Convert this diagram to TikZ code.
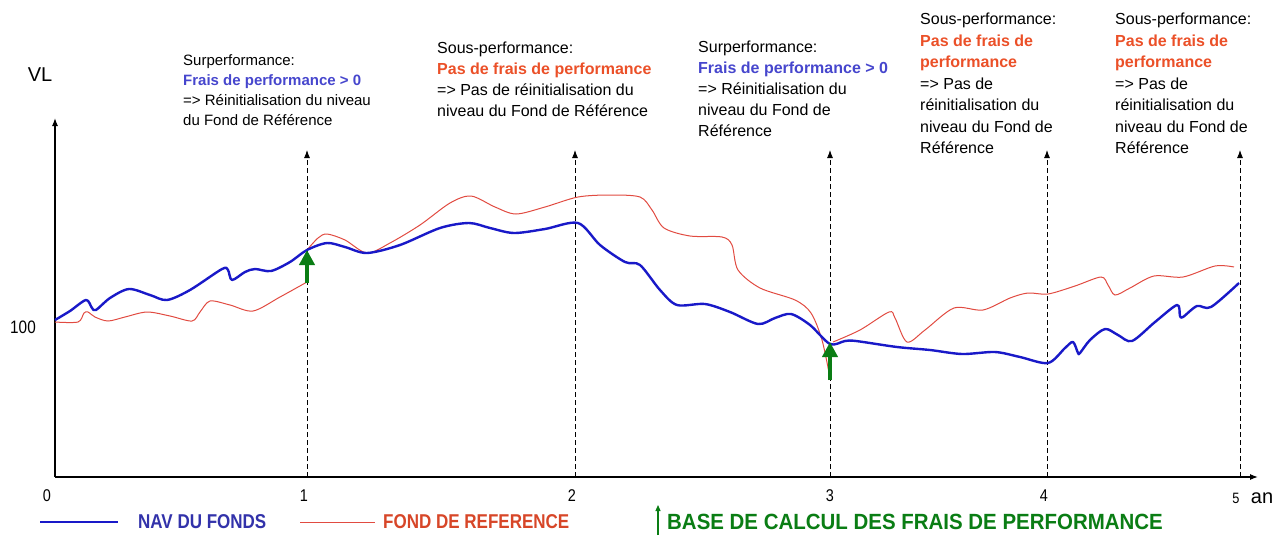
\documentclass[tikz,border=0pt]{standalone}
\usepackage{fontspec}
\setmainfont{Liberation Sans}
\newfontfamily\narrowfont[FakeStretch=0.85]{Liberation Sans}
\newfontfamily\basefont[FakeStretch=0.93]{Liberation Sans}
\usetikzlibrary{arrows.meta}
\definecolor{navblue}{RGB}{25,25,200}
\definecolor{refred}{RGB}{225,75,65}
\definecolor{fraisblue}{RGB}{70,70,205}
\definecolor{fraisred}{RGB}{235,80,40}
\definecolor{basegreen}{RGB}{10,125,20}
\definecolor{legblue}{RGB}{50,50,170}
\definecolor{legred}{RGB}{215,70,40}
\tikzset{
  axisline/.style={line width=1.2pt, -{Latex[length=8pt,width=6pt]}},
  yearline/.style={dash pattern=on 5pt off 3pt, line width=0.9pt, -{Latex[length=8pt,width=6pt]}},
  comment/.style={anchor=north west, inner sep=0pt, align=left, font=\fontsize{16}{21}\selectfont},
  navcurve/.style={navblue, line width=2.4pt, line join=round},
  refcurve/.style={refred, line width=1pt},
  basearrow/.style={basegreen, line width=4pt, -{Triangle[length=15pt,width=15pt]}},
  ticklabel/.style={font=\fontsize{17}{17}\selectfont\narrowfont, inner sep=0pt},
  legendtext/.style={font=\fontsize{20}{20}\selectfont\narrowfont\bfseries, anchor=west, inner sep=0pt}
}
\newcommand{\surf}{\bfseries\color{fraisblue}}
\newcommand{\sous}{\bfseries\color{fraisred}}

\begin{document}
\begin{tikzpicture}[x=1pt,y=-1pt]
			%%%%% START %%%%%
			\useasboundingbox (0,0) rectangle (1279,536);
			
			% axes
			\coordinate (origin) at (55,477);
			\coordinate (ytop) at (55,118);
			\coordinate (xend) at (1258,477);
			\draw[axisline] (origin) -- (ytop);
			\draw[axisline] (origin) -- (xend);
			\node[font=\fontsize{20}{20}\selectfont] (vl) at (40,75) {VL};
			\node[ticklabel, font=\fontsize{18}{18}\selectfont\narrowfont] (cent) at (23,327) {100};
			
			% years
			\foreach \n/\x in {1/307,2/575,3/830,4/1047,5/1240}{
				\coordinate (low\n) at (\x,477);
				\coordinate (top\n) at (\x,150);
				\draw[yearline] (low\n) -- (top\n);
			}
			\node[ticklabel] (t0) at (47,496) {0};
			\node[ticklabel] (t1) at (304,496) {1};
			\node[ticklabel] (t2) at (572,496) {2};
			\node[ticklabel] (t3) at (830,496) {3};
			\node[ticklabel] (t4) at (1044,496) {4};
			\node[ticklabel, font=\fontsize{15}{15}\selectfont\narrowfont] (t5) at (1236,498) {5};
			\node[font=\fontsize{20}{20}\selectfont, inner sep=0pt] (an) at (1262,498) {an};
			
			% comments
			\node[comment, font=\fontsize{15}{20}\selectfont] (surf1) at (183,54) {Surperformance:\\{\surf Frais de performance > 0}\\=> Réinitialisation du niveau\\du Fond de Référence};
			\node[comment] (sous2) at (437,42) {Sous-performance:\\{\sous Pas de frais de performance}\\=> Pas de réinitialisation du\\niveau du Fond de Référence};
			\node[comment] (surf3) at (698,41) {Surperformance:\\{\surf Frais de performance > 0}\\=> Réinitialisation du\\niveau du Fond de\\Référence};
			\node[comment, font=\fontsize{16}{21.5}\selectfont] (sous4) at (920,13) {Sous-performance:\\{\sous Pas de frais de}\\{\sous performance}\\=> Pas de\\réinitialisation du\\niveau du Fond de\\Référence};
			\node[comment, font=\fontsize{16}{21.5}\selectfont] (sous5) at (1115,13) {Sous-performance:\\{\sous Pas de frais de}\\{\sous performance}\\=> Pas de\\réinitialisation du\\niveau du Fond de\\Référence};
			
			% fond de reference
			\draw[refcurve] plot[smooth, tension=0.5] coordinates {(55,322) (78,322) (84,313) (88,312) (95,317) (108,321) (125,317) (147,312) (170,316) (192,321) (200,312) (210,301) (230,305) (253,311) (280,297) (307,282)};
			\draw[refcurve] plot[smooth, tension=0.5] coordinates {(307,250) (318,238) (327,234) (345,240) (367,253) (390,243) (420,225) (450,203) (471,196) (495,207) (516,214) (545,207) (578,197) (610,195) (640,197) (652,210) (664,228) (690,236) (722,237) (732,245) (738,270) (760,288) (795,300) (811,313) (822,340) (830,378)};
			\draw[refcurve] plot[smooth, tension=0.5] coordinates {(833,342) (860,330) (889,312) (895,318) (907,342) (925,330) (954,308) (983,310) (1010,298) (1028,293) (1048,294) (1075,286) (1101,277) (1108,285) (1115,295) (1130,288) (1154,276) (1183,277) (1215,266) (1234,267)};
			
			% NAV
			\draw[navcurve] plot[smooth, tension=0.5] coordinates {(55,320) (70,311) (86,300) (92,308) (96,310) (110,298) (129,289) (150,295) (167,300) (190,290) (222,269) (228,270) (232,280) (245,272) (255,269) (271,271) (290,262) (307,250) (327,243) (345,247) (367,253) (400,245) (440,228) (469,223) (490,228) (514,233) (545,229) (578,223) (600,245) (625,262) (640,265) (660,290) (677,305) (705,304) (730,312) (758,324) (775,318) (791,314) (810,325) (830,344) (845,341) (856,341) (897,347) (930,350) (962,354) (995,352) (1020,357) (1048,363) (1065,348) (1073,342) (1078,353) (1080,353) (1090,340) (1105,329) (1118,335) (1132,341) (1155,322) (1177,305) (1180,316) (1183,317) (1197,306) (1211,307) (1239,283)};
			
			% base de calcul
			\coordinate (b1) at (307,283);
			\coordinate (r1) at (307,250);
			\coordinate (b3) at (830,380);
			\coordinate (r3) at (830,342);
			\draw[basearrow] (b1) -- (r1);
			\draw[basearrow] (b3) -- (r3);
			
			% legend
			\coordinate (navs) at (40,522);
			\coordinate (nave) at (118,522);
			\draw[navblue, line width=1.5pt] (navs) -- (nave);
			\node[legendtext, legblue] (navtxt) at (138,522) {NAV DU FONDS};
			\coordinate (refs) at (300,522);
			\coordinate (refe) at (375,522);
			\draw[refcurve] (refs) -- (refe);
			\node[legendtext, legred] (reftxt) at (383,522) {FOND DE REFERENCE};
			\coordinate (bases) at (658,535);
			\coordinate (basee) at (658,505);
			\draw[basegreen, line width=1.2pt, -{Triangle[length=6pt,width=5pt]}] (bases) -- (basee);
			\node[legendtext, basegreen, font=\fontsize{22}{22}\selectfont\basefont\bfseries] (basetxt) at (667,522) {BASE DE CALCUL DES FRAIS DE PERFORMANCE};
			
			%%%%% END %%%%%
\end{tikzpicture}
\end{document}
